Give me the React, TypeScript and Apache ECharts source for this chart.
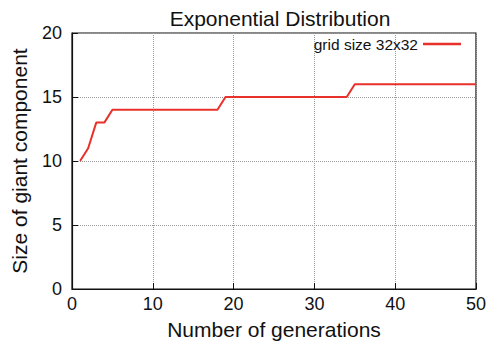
import React, { useEffect, useRef } from "react";
import * as echarts from "echarts";

const generations = [1, 2, 3, 4, 5, 18, 19, 34, 35, 50];
const giantSize = [10, 11, 13, 13, 14, 14, 15, 15, 16, 16];
const seriesName = "grid size 32x32";
const titleText = "Exponential Distribution";
const xName = "Number of generations";
const yName = "Size of giant component";

const FONT = "Liberation Sans, Arial, Helvetica, sans-serif";

export default function App() {
  const ref = useRef<HTMLDivElement>(null);
  useEffect(() => {
    if (!ref.current) return;
    const chart = echarts.init(ref.current, undefined, { renderer: "svg" });
    chart.setOption({
      animation: false,
      backgroundColor: "#fff",
      textStyle: { fontFamily: FONT },
      title: {
        text: titleText,
        left: 275,
        textAlign: "center",
        top: 3,
        textStyle: { fontFamily: FONT, fontSize: 21, fontWeight: "normal", color: "#111" },
      },
      legend: {
        right: 27,
        top: 31,
        align: "right",
        icon: "rect",
        itemWidth: 38,
        itemHeight: 2.5,
        itemGap: 6,
        textStyle: { fontFamily: FONT, fontSize: 15.5, color: "#111" },
        data: [seriesName],
      },
      grid: {
        left: 72,
        right: 17,
        top: 33,
        bottom: 58,
        show: true,
        borderColor: "#111",
        borderWidth: 1.2,
        backgroundColor: "transparent",
      },
      xAxis: {
        type: "value",
        min: 0,
        max: 50,
        interval: 10,
        name: xName,
        nameLocation: "middle",
        nameGap: 30,
        nameTextStyle: { fontFamily: FONT, fontSize: 21, color: "#111" },
        axisLine: { show: true, lineStyle: { color: "#111", width: 1.2 } },
        axisTick: { show: true, inside: true, length: 6, lineStyle: { color: "#111" } },
        axisLabel: { fontFamily: FONT, fontSize: 18, color: "#111", margin: 6 },
        splitLine: { show: true, lineStyle: { color: "#999", type: [1, 1], width: 1 } },
      },
      yAxis: {
        type: "value",
        min: 0,
        max: 20,
        interval: 5,
        name: yName,
        nameLocation: "middle",
        nameGap: 42,
        nameTextStyle: { fontFamily: FONT, fontSize: 21, color: "#111" },
        axisLine: { show: true, lineStyle: { color: "#111", width: 1.2 } },
        axisTick: { show: true, inside: true, length: 6, lineStyle: { color: "#111" } },
        axisLabel: { fontFamily: FONT, fontSize: 18, color: "#111", margin: 10 },
        splitLine: { show: true, lineStyle: { color: "#999", type: [1, 1], width: 1 } },
      },
      series: [
        {
          name: seriesName,
          type: "line",
          data: generations.map((g, i) => [g, giantSize[i]]),
          symbol: "none",
          color: "#e8312a",
          lineStyle: { color: "#e8312a", width: 2 },
        },
      ],
    });
    return () => chart.dispose();
  }, []);
  return (
    <div
      ref={ref}
      style={{ position: "absolute", left: 0, top: 0, width: 493, height: 347 }}
    />
  );
}
